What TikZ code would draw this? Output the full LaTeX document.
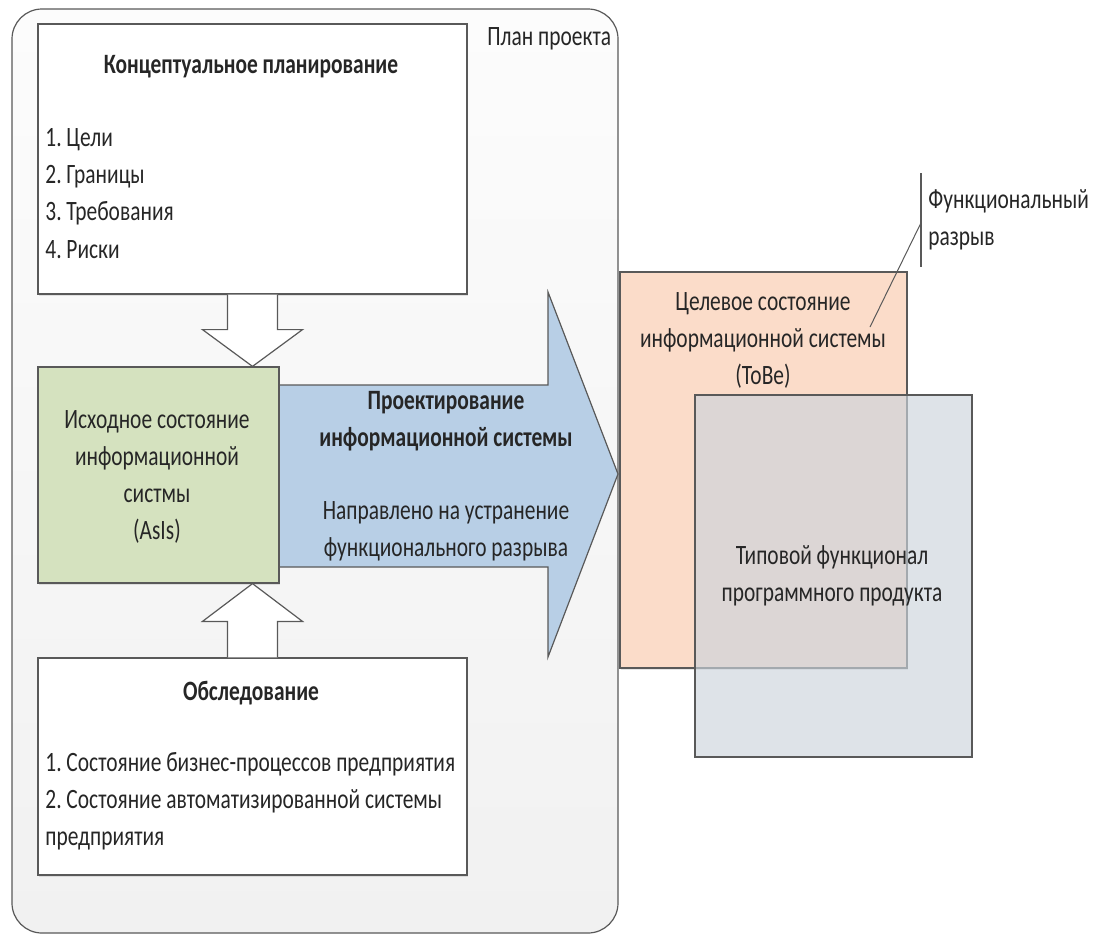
\documentclass[tikz,border=0pt]{standalone}
\usepackage{fontspec}
\setmainfont[FakeStretch=0.765]{Carlito}
\usepackage{tikz}
\usetikzlibrary{calc,fit,shadows}

\definecolor{planTop}{HTML}{FCFCFC}
\definecolor{planBot}{HTML}{F1F1F1}
\definecolor{asisFill}{HTML}{D5E2BF}
\definecolor{tobeFill}{HTML}{FBDCC9}
\definecolor{prodFill}{HTML}{CCD4DC}
\definecolor{designFill}{HTML}{B8CFE6}
\definecolor{edgeCol}{HTML}{595959}
\definecolor{txtCol}{HTML}{262626}

\begin{document}
\begin{tikzpicture}[x=0.5pt, y=-0.5pt, font=\fontsize{14}{18.5}\selectfont, text=txtCol,
                    box/.style={draw=edgeCol, line width=0.6pt, inner sep=0pt},
                    shaded/.style={drop shadow={shadow xshift=0.6pt, shadow yshift=-0.8pt, opacity=0.2}},
                    hollow/.style={draw=edgeCol, fill=white, line width=0.6pt},
                    label/.style={inner sep=0pt, align=center}]

\useasboundingbox (0,0) rectangle (1099,939);

% Project plan frame
\draw[draw=edgeCol, line width=0.6pt, top color=planTop, bottom color=planBot,
      rounded corners=15pt] (12,9) rectangle (618,933);
\node[inner sep=0pt, anchor=west] (plan) at (487,39) {План проекта};

% Left column
\node[box, shaded, fill=white, fit={(38,24) (467,294)}] (concept) {};
\node[label, font=\fontsize{14}{18.5}\selectfont\bfseries] (conceptT) at (251,67) {Концептуальное планирование};
\foreach \t [count=\i] in {Цели, Границы, Требования, Риски} {
    \node[inner sep=0pt, anchor=west] (goal\i) at (45,{140+36.7*(\i-1)}) {\i.~\t};
}

\node[box, shaded, fill=white, fit={(38,658) (467,875)}] (survey) {};
\node[label, font=\fontsize{14}{18.5}\selectfont\bfseries] (surveyT) at (251,693) {Обследование};
\node[inner sep=0pt, anchor=north west, align=left] (surveyL) at (45,752)
    {1.~Состояние бизнес-процессов предприятия\\2.~Состояние автоматизированной системы\\предприятия};

% Design arrow
\coordinate (tip) at (618,474);
\draw[draw=edgeCol, fill=designFill, line width=0.6pt]
    (279,385) -- (548,385) -- (548,292) -- (tip) -- (548,657) -- (548,567) -- (279,567);
\node[label, font=\fontsize{14}{18.5}\selectfont\bfseries] (designT) at (446,421)
    {Проектирование\\информационной системы};
\node[label] (designL) at (446,531) {Направлено на устранение\\функционального разрыва};

% AsIs state
\node[box, shaded, fill=asisFill, fit={(38,367) (279,583)}] (asis) {};
\node[label] (asisT) at (157,477) {Исходное состояние\\информационной\\систмы\\(AsIs)};

% Hollow arrows into AsIs
\draw[hollow] ($(concept.south)+(-25,0)$) |- ($(concept.south)+(-50,35)$)
    -- (concept.south |- asis.north) -- ($(concept.south)+(50,35)$) -| ($(concept.south)+(25,0)$);
\draw[hollow] ($(survey.north)+(-25,0)$) |- ($(survey.north)+(-50,-36)$)
    -- (survey.north |- asis.south) -- ($(survey.north)+(50,-36)$) -| ($(survey.north)+(25,0)$);

% ToBe and product
\node[box, shaded, fill=tobeFill, fit={(620,272) (907,668)}] (tobe) {};
\node[label] (tobeT) at (763,340) {Целевое состояние\\информационной системы\\(ToBe)};
\node[box, fill=prodFill, fill opacity=0.65, fit={(695,395) (972,757)}] (prod) {};
\node[label] (prodT) at (832,576) {Типовой функционал\\программного продукта};

% Functional gap callout
\node[inner sep=0pt, anchor=west, align=left] (gap) at (928,220) {Функциональный\\разрыв};
\coordinate (gapTop) at (921,173);
\coordinate (gapBot) at (921,267);
\coordinate (gapEnd) at (870,327);
\draw[edgeCol, line width=0.6pt] (gapTop) -- (gapBot);
\draw[edgeCol, line width=0.5pt] (gapEnd) -- ($(gapTop)!0.53!(gapBot)$);

\end{tikzpicture}
\end{document}
